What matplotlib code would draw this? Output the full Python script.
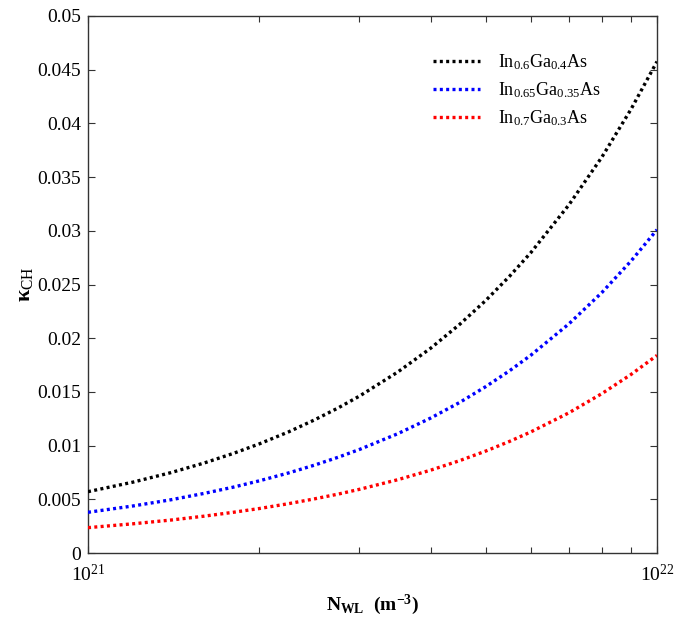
import numpy as np
import matplotlib
matplotlib.use("Agg")
import matplotlib.pyplot as plt
from matplotlib.ticker import LogLocator, NullFormatter, FixedLocator

plt.rcParams['font.family'] = ['Liberation Serif', 'DejaVu Serif']
plt.rcParams['mathtext.fontset'] = 'custom'
plt.rcParams['mathtext.rm'] = 'Liberation Serif'
plt.rcParams['mathtext.it'] = 'Liberation Serif:italic'
plt.rcParams['mathtext.bf'] = 'Liberation Serif:bold'

# N_WL in m^-3
n_wl = [1.0e21, 1.2e21, 1.4e21, 1.6e21, 1.8e21, 2.0e21, 2.25e21, 2.5e21, 2.75e21, 3.0e21,
        3.5e21, 4.0e21, 4.5e21, 5.0e21, 5.5e21, 6.0e21, 7.0e21, 8.0e21, 9.0e21, 1.0e22]
kappa_06 = [0.00571, 0.00660, 0.00749, 0.00838, 0.00927, 0.01016, 0.01127, 0.01239, 0.01350, 0.01461,
            0.01684, 0.01906, 0.02129, 0.02351, 0.02574, 0.02796, 0.03241, 0.03686, 0.04131, 0.04576]
kappa_065 = [0.00379, 0.00438, 0.00496, 0.00555, 0.00613, 0.00672, 0.00745, 0.00818, 0.00891, 0.00964,
             0.01110, 0.01256, 0.01402, 0.01549, 0.01695, 0.01841, 0.02133, 0.02425, 0.02718, 0.03010]
kappa_07 = [0.00236, 0.00272, 0.00307, 0.00343, 0.00379, 0.00414, 0.00459, 0.00504, 0.00548, 0.00593,
            0.00682, 0.00771, 0.00860, 0.00949, 0.01038, 0.01127, 0.01305, 0.01484, 0.01662, 0.01840]
labels = [r'In$_{0.6}$Ga$_{0.4}$As', r'In$_{0.65}$Ga$_{0.35}$As', r'In$_{0.7}$Ga$_{0.3}$As']
colors = ['black', 'blue', 'red']
y_ticks = [0, 0.005, 0.01, 0.015, 0.02, 0.025, 0.03, 0.035, 0.04, 0.045, 0.05]
y_ticklabels = ['0', '0.005', '0.01', '0.015', '0.02', '0.025', '0.03', '0.035', '0.04', '0.045', '0.05']

fig = plt.figure(figsize=(6.75, 6.18), dpi=100)
ax = fig.add_axes([88/675, 1-553/618, (657-88)/675, (553-16)/618])

for ys, c, lab in zip([kappa_06, kappa_065, kappa_07], colors, labels):
    ax.plot(n_wl, ys, color=c, linestyle=(0, (0.9, 1.0)), linewidth=2.4,
            dash_capstyle='butt', label=lab, zorder=3)

ax.set_xscale('log')
ax.set_xlim(1e21, 1e22)
ax.set_ylim(0, 0.05)
ax.set_yticks(y_ticks)
ax.set_yticklabels(y_ticklabels)
ax.xaxis.set_major_locator(FixedLocator([1e21, 1e22]))
ax.set_xticklabels([r'$10^{21}$', r'$10^{22}$'])
ax.xaxis.set_minor_locator(LogLocator(base=10, subs=np.arange(2, 10)))
ax.xaxis.set_minor_formatter(NullFormatter())

ax.tick_params(which='both', direction='in', top=True, right=True, colors='#333333',
               labelcolor='black', labelsize=14)
ax.tick_params(which='major', length=5, width=0.8)
ax.tick_params(which='minor', length=4, width=0.8)
ax.tick_params(axis='y', which='major', pad=5)
ax.tick_params(axis='x', which='major', pad=8)
for s in ax.spines.values():
    s.set_color('#333333')
    s.set_linewidth(1.0)

ax.set_xlabel(r'$\mathbf{N_{WL}}$  $\mathbf{(m^{-3})}$', fontsize=14, labelpad=5)
ax.set_ylabel(r'$\mathbf{\kappa}_{\mathrm{CH}}$', fontsize=16, labelpad=2)

leg = ax.legend(loc='upper right', bbox_to_anchor=(0.929, 0.962), frameon=False,
                fontsize=13, handlelength=2.6, labelspacing=0.45, handletextpad=1.0)

fig.savefig('out.png', dpi=100)
